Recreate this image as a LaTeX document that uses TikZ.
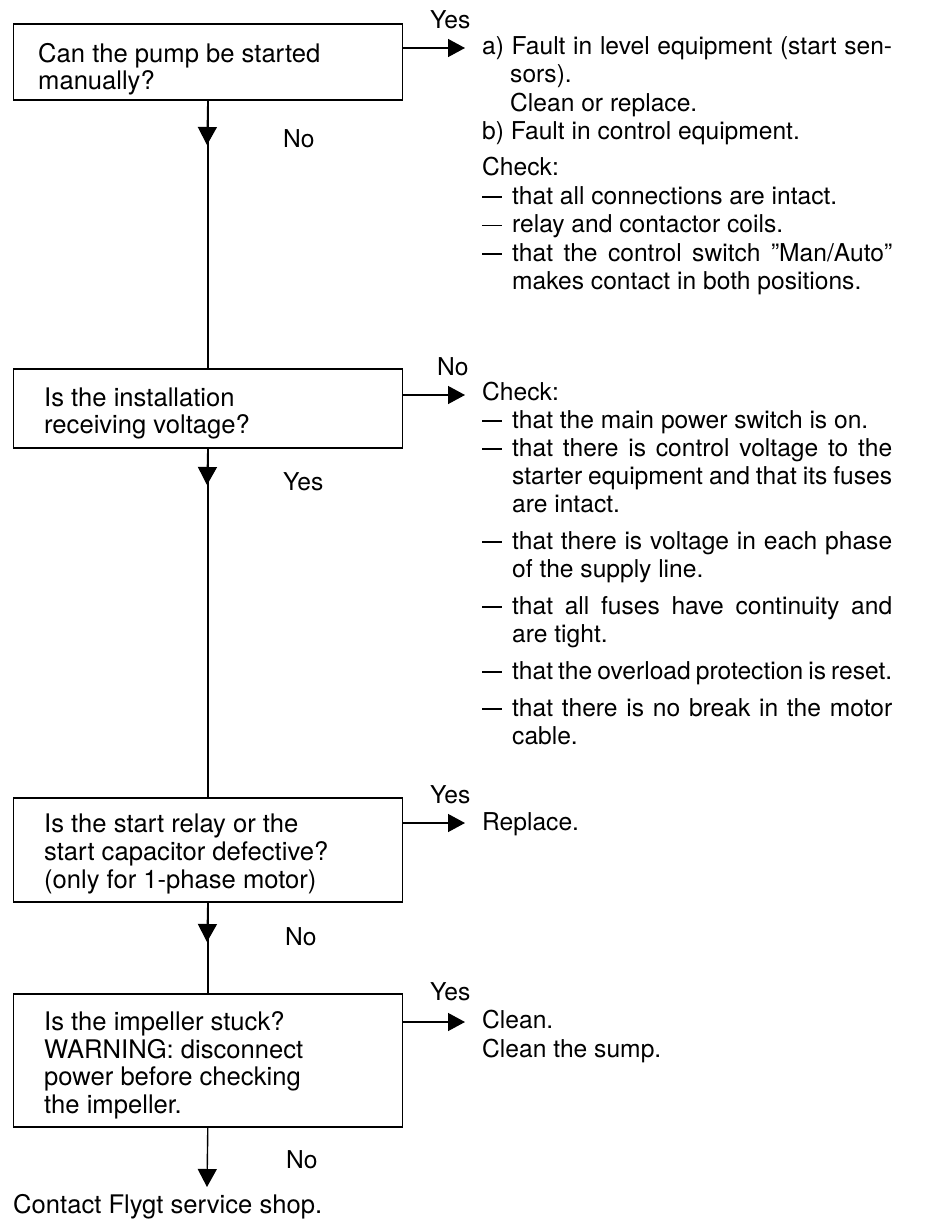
\documentclass[tikz,border=0pt]{standalone}
\usepackage{fontspec}
\setmainfont{TeX Gyre Heros}
\usetikzlibrary{arrows.meta}
\newcommand{\jline}[2]{\hbox to #1{\spaceskip=0.278em plus 1em minus 0.15em\relax #2}}
\newcommand{\dsh}{\hbox to 30pt{\rule[6.2pt]{20pt}{1.8pt}\hfil}}
\begin{document}
\begin{tikzpicture}[x=1pt,y=-1pt,
  box/.style={draw, line width=1.6pt, rectangle, inner sep=0pt, anchor=north west, minimum width=389pt},
  conn/.style={line width=1.4pt},
  arr/.style={line width=1.4pt, -{Triangle[length=17pt,width=18pt]}},
  darr/.style={line width=1.4pt, -{Triangle[length=18pt,width=19pt]}},
  qt/.style={anchor=base west, inner sep=0pt, font=\fontsize{25.6}{28}\selectfont},
  rt/.style={anchor=base west, inner sep=0pt, font=\fontsize{24.6}{28.5}\selectfont},
  lbl/.style={anchor=base west, inner sep=0pt, font=\fontsize{24.6}{28}\selectfont}]
\useasboundingbox (0,0) rectangle (933,1221);
% boxes
\node[box, minimum height=76pt] (b1) at (12.5,23) {};
\node[box, minimum height=79pt] (b2) at (12.5,368) {};
\node[box, minimum height=104pt] (b3) at (12.5,797) {};
\node[box, minimum height=133pt] (b4) at (12.5,993) {};
% box texts
\node[qt] (q1a) at (38,62) {Can the pump be started};
\node[qt] (q1b) at (38,89) {manually?};
\node[qt] (q2a) at (44,406) {Is the installation};
\node[qt] (q2b) at (44,433) {receiving voltage?};
\node[qt] (q3a) at (44,832) {Is the start relay or the};
\node[qt] (q3b) at (44,860) {start capacitor defective?};
\node[qt] (q3c) at (44,888) {(only for 1-phase motor)};
\node[qt] (q4a) at (44,1030) {Is the impeller stuck?};
\node[qt] (q4b) at (44,1058) {WARNING: disconnect};
\node[qt] (q4c) at (44,1085) {power before checking};
\node[qt] (q4d) at (44,1113) {the impeller.};
\node[qt] (fin) at (13,1213) {Contact Flygt service shop.};
% coordinates for arrow tips
\coordinate (t1) at (207,145);
\coordinate (t2) at (207,485);
\coordinate (t3) at (207,942);
\coordinate (t4) at (207,1187);
\coordinate (e1) at (465,48);
\coordinate (e2) at (465,395);
\coordinate (e3) at (465,823);
\coordinate (e4) at (465,1022);
% vertical connectors
\draw[conn] (b1.south) -- (b2.north);
\draw[darr] (b1.south) -- (t1);
\draw[conn] (b2.south) -- (b3.north);
\draw[darr] (b2.south) -- (t2);
\draw[conn] (b3.south) -- (b4.north);
\draw[darr] (b3.south) -- (t3);
\draw[darr] (b4.south) -- (t4);
% horizontal connectors
\draw[arr] (b1.east |- e1) -- (e1);
\draw[arr] (b2.east |- e2) -- (e2);
\draw[arr] (b3.east |- e3) -- (e3);
\draw[arr] (b4.east |- e4) -- (e4);
% labels
\node[lbl] (y1) at (430,28) {Yes};
\node[lbl] (n1) at (283,147) {No};
\node[lbl] (n2) at (437,375) {No};
\node[lbl] (y2) at (283,490) {Yes};
\node[lbl] (y3) at (430,803) {Yes};
\node[lbl] (n3) at (285,945) {No};
\node[lbl] (y4) at (430,1000) {Yes};
\node[lbl] (n4) at (286,1168) {No};
% right text block 1
\node[rt] (r1) at (482,54) {\jline{410pt}{a) Fault in level equipment (start sen-}};
\node[rt] (r2) at (510,82.5) {sors).};
\node[rt] (r3) at (510,111) {Clean or replace.};
\node[rt] (r4) at (482,139.5) {b) Fault in control equipment.};
\node[rt] (r5) at (482,175.5) {Check:};
\node[rt] (r6) at (482,204) {\dsh that all connections are intact.};
\node[rt] (r7) at (482,232.5) {\dsh relay and contactor coils.};
\node[rt] (r8) at (482,261) {\jline{410pt}{\dsh that the control switch ”Man/Auto”}};
\node[rt] (r9) at (512,289.5) {makes contact in both positions.};
% right text block 2
\node[rt] (c1) at (482,400) {Check:};
\node[rt] (c2) at (482,428) {\dsh that the main power switch is on.};
\node[rt] (c3) at (482,456) {\jline{410pt}{\dsh that there is control voltage to the}};
\node[rt] (c4) at (512,484) {\jline{380pt}{starter equipment and that its fuses}};
\node[rt] (c5) at (512,512) {are intact.};
\node[rt] (c6) at (482,549) {\jline{410pt}{\dsh that there is voltage in each phase}};
\node[rt] (c7) at (512,577) {of the supply line.};
\node[rt] (c8) at (482,614) {\jline{410pt}{\dsh that all fuses have continuity and}};
\node[rt] (c9) at (512,642) {are tight.};
\node[rt] (c10) at (482,679) {\jline{410pt}{\dsh that the overload protection is reset.}};
\node[rt] (c11) at (482,716) {\jline{410pt}{\dsh that there is no break in the motor}};
\node[rt] (c12) at (512,744) {cable.};
% right text blocks 3 and 4
\node[rt] (s1) at (482,830) {Replace.};
\node[rt] (s2) at (482,1028) {Clean.};
\node[rt] (s3) at (482,1057) {Clean the sump.};
\end{tikzpicture}
\end{document}
